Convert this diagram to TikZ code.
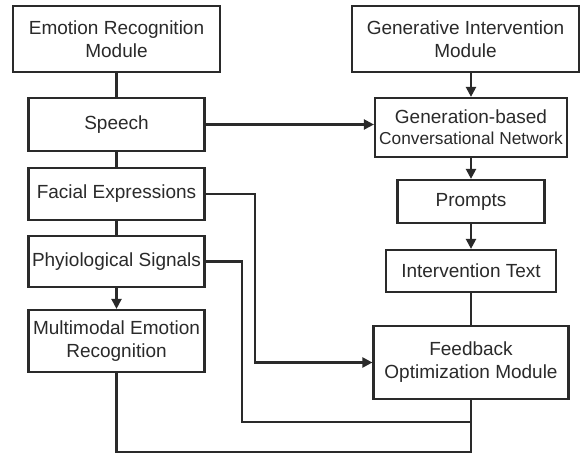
\documentclass[tikz,border=0pt]{standalone}
\usepackage{fontspec}
\setmainfont{Liberation Sans}
\usetikzlibrary{arrows.meta}
\definecolor{ink}{HTML}{2A2A2A}
\begin{document}
\begin{tikzpicture}[x=1pt,y=-1pt,
  box/.style={draw=ink,line width=2.2pt,fill=white,inner sep=2pt,align=center,
    font=\fontsize{19}{23}\selectfont,text=ink},
  link/.style={draw=ink,line width=2.2pt},
  arr/.style={link,-{Triangle[length=10pt,width=10pt]}}]
\useasboundingbox (0,0) rectangle (581,454);
\node[box,minimum width=207pt,minimum height=66pt] (erm) at (116.5,39) {Emotion Recognition\\Module};
\node[box,minimum width=176pt,minimum height=53pt] (speech) at (116.5,124.5) {Speech};
\node[box,minimum width=176pt,minimum height=52pt] (facial) at (116.5,194) {Facial Expressions};
\node[box,minimum width=176pt,minimum height=51pt] (phys) at (116.5,261.5) {Phyiological Signals};
\node[box,minimum width=176pt,minimum height=62pt] (multi) at (116.5,341) {Multimodal Emotion\\Recognition};
\node[box,minimum width=227pt,minimum height=66pt] (gim) at (465.5,39) {Generative Intervention\\Module};
\node[box,minimum width=192pt,minimum height=59pt] (gen) at (471,127.5) {Generation-based\\[-2pt]{\fontsize{17.3}{21}\selectfont Conversational Network}};
\node[box,minimum width=147pt,minimum height=43pt] (prompts) at (471,201.5) {Prompts};
\node[box,minimum width=170pt,minimum height=42pt] (itext) at (471,271) {Intervention Text};
\node[box,minimum width=195pt,minimum height=73pt] (fb) at (471,362.5) {Feedback\\Optimization Module};
\coordinate (c1) at (255,363);
\coordinate (c2) at (242,422);
\coordinate (c3) at (471,452);
\draw[link] (erm) -- (speech);
\draw[link] (speech) -- (facial);
\draw[link] (facial) -- (phys);
\draw[arr] (phys) -- (multi);
\draw[arr] (speech.east) -- (gen.west |- speech.east);
\draw[arr] (gen.north |- gim.south) -- (gen.north);
\draw[arr] (gen) -- (prompts);
\draw[arr] (prompts) -- (itext);
\draw[link] (itext) -- (fb);
\draw[arr] (facial.east) -- (facial.east -| c1) |- (fb.west);
\draw[link] (phys.east) -| (c2) -- (c2 -| fb.south);
\draw[link] (multi.south) |- (c3) -- (fb.south);
\end{tikzpicture}
\end{document}
